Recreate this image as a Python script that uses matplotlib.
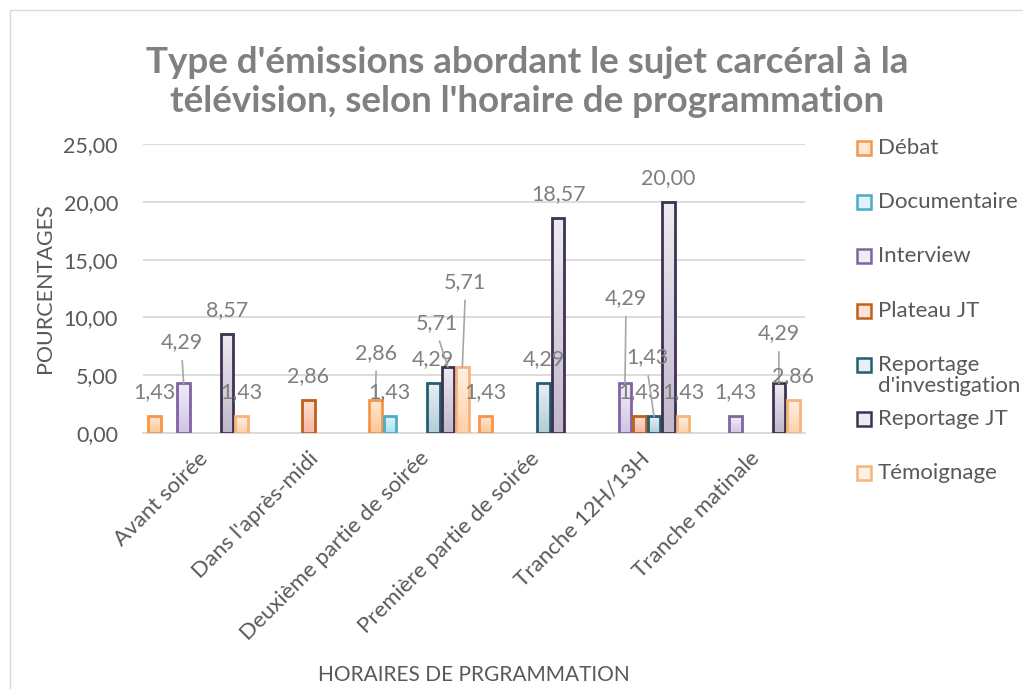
import numpy as np
import matplotlib.pyplot as plt
from matplotlib.colors import LinearSegmentedColormap
from matplotlib.patches import Rectangle

# ---------------------------------------------------------------
# Données
# ---------------------------------------------------------------
categories = ["Avant soirée", "Dans l'après-midi", "Deuxième partie de soirée",
              "Première partie de soirée", "Tranche 12H/13H", "Tranche matinale"]
series = ["Débat", "Documentaire", "Interview", "Plateau JT",
          "Reportage\nd'investigation", "Reportage JT", "Témoignage"]

# une liste par série, None = pas de barre
debat         = [1.43, None, 2.86, 1.43, None, None]
documentaire  = [None, None, 1.43, None, None, None]
interview     = [4.29, None, None, None, 4.29, 1.43]
plateau_jt    = [None, 2.86, None, None, 1.43, None]
reportage_inv = [None, None, 4.29, 4.29, 1.43, None]
reportage_jt  = [8.57, None, 5.71, 18.57, 20.00, 4.29]
temoignage    = [1.43, None, 5.71, None, 1.43, 2.86]
values = [debat, documentaire, interview, plateau_jt, reportage_inv, reportage_jt, temoignage]

# (bord, haut du dégradé, bas du dégradé)
colors = [
    ("#F79646", "#FEE7D4", "#FCC797"),
    ("#4BACC6", "#DFF4FA", "#A8E1F2"),
    ("#8064A2", "#F1EDF7", "#D2C4E6"),
    ("#C0601A", "#FDE2D8", "#F8B7A2"),
    ("#215F73", "#E8EFF3", "#B3CDD7"),
    ("#3F3151", "#EEECF2", "#C0B8CC"),
    ("#F9B47A", "#FFF1E5", "#FDD0A9"),
]

# décalage manuel des étiquettes (pixels, depuis le haut de la barre) -> ligne de rappel
label_moves = {
    (0, 2): (-2, 41),
    (2, 0): (1, 47),
    (2, 5): (-11, 44),
    (2, 6): (3, 85),
    (4, 2): (1, 85),
    (4, 4): (-7, 59),
    (5, 5): (0, 50),
}

GREY = "#595959"
LABEL_GREY = "#7F7F7F"
FONT = "Lato"
PX = 0.72  # points par pixel à 100 dpi

fig = plt.figure(figsize=(10.23, 6.89), dpi=100)
ax = fig.add_axes([143/1023, 1-433/689, (805-143)/1023, (433-144)/689])

n_ser = len(series)
slot = 0.1315
width = 0.113
x = np.arange(len(categories))

for j, vals in enumerate(values):
    edge, top, bot = colors[j]
    cmap = LinearSegmentedColormap.from_list("g%d" % j, [bot, top])
    grad = np.linspace(1, 0, 64).reshape(-1, 1)
    for i, v in enumerate(vals):
        if v is None:
            continue
        xc = x[i] + (j - (n_ser - 1) / 2) * slot
        ax.imshow(grad, cmap=cmap, extent=[xc - width/2, xc + width/2, 0, v],
                  aspect="auto", zorder=2, vmin=0, vmax=1)
        ax.bar(xc, v, width=width, facecolor="none", edgecolor=edge,
               linewidth=2, zorder=3)
        txt = f"{v:.2f}".replace(".", ",")
        if (i, j) in label_moves:
            dx, dy = label_moves[(i, j)]
            ax.annotate(txt, xy=(xc, v), xytext=(dx*PX, dy*PX), textcoords="offset points",
                        ha="center", va="center", fontsize=15.5, color=LABEL_GREY,
                        family=FONT, zorder=5,
                        arrowprops=dict(arrowstyle="-", color="#A6A6A6", lw=1.2,
                                        shrinkA=4, shrinkB=0, relpos=(0.5, 0)))
        else:
            ax.annotate(txt, xy=(xc, v), xytext=(0, 24*PX), textcoords="offset points",
                        ha="center", va="center", fontsize=15.5, color=LABEL_GREY,
                        family=FONT, zorder=5)

ax.set_xlim(-0.5, len(categories) - 0.5)
ax.set_ylim(0, 25)
ax.set_yticks(np.arange(0, 26, 5))
ax.set_yticklabels([f"{t:.2f}".replace(".", ",") for t in np.arange(0, 26, 5)],
                   fontsize=15.5, color=GREY, family=FONT)
ax.set_xticks(x)
ax.set_xticklabels(categories, rotation=45, ha="right", va="top", rotation_mode="anchor",
                   fontsize=16, color=GREY, family=FONT)
ax.tick_params(axis="both", length=0)
ax.tick_params(axis="x", pad=11)
ax.tick_params(axis="y", pad=18)
ax.grid(axis="y", color="#D9D9D9", linewidth=1.3, zorder=0)
ax.set_axisbelow(True)
for s in ["top", "right", "left"]:
    ax.spines[s].set_visible(False)
ax.spines["bottom"].set_color("#D9D9D9")
ax.spines["bottom"].set_linewidth(1.3)

fig.text(45/1023, 1-288/689, "POURCENTAGES", ha="center", va="center", rotation=90,
         fontsize=15.5, color=GREY, family=FONT)
fig.text(474/1023, 1-675/689, "HORAIRES DE PRGRAMMATION", ha="center", va="center",
         fontsize=15, color=GREY, family=FONT)

fig.text(527/1023, 1-82/689, "Type d'émissions abordant le sujet carcéral à la\n"
         "télévision, selon l'horaire de programmation", ha="center", va="center",
         fontsize=26.5, fontweight="bold", color="#808080", family=FONT, linespacing=1.25)

# légende manuelle (pas régulier, comme dans l'original)
for j, name in enumerate(series):
    yc = 148 + j * 54.2
    edge, top, bot = colors[j]
    fig.patches.append(Rectangle((857/1023, 1-(yc+7)/689), 14/1023, 14/689,
                                 transform=fig.transFigure, facecolor=top,
                                 edgecolor=edge, linewidth=1.8))
    fig.text(878/1023, 1-(yc-10)/689, name, ha="left", va="top", fontsize=16,
             color=GREY, family=FONT, linespacing=1.05)

# cadre de la zone graphique
fig.patches.append(Rectangle((10/1023, -0.01), 1.2, 1-10/689 + 0.01, transform=fig.transFigure,
                             facecolor="none", edgecolor="#D9D9D9", linewidth=1))

fig.savefig("out.png", dpi=100)
